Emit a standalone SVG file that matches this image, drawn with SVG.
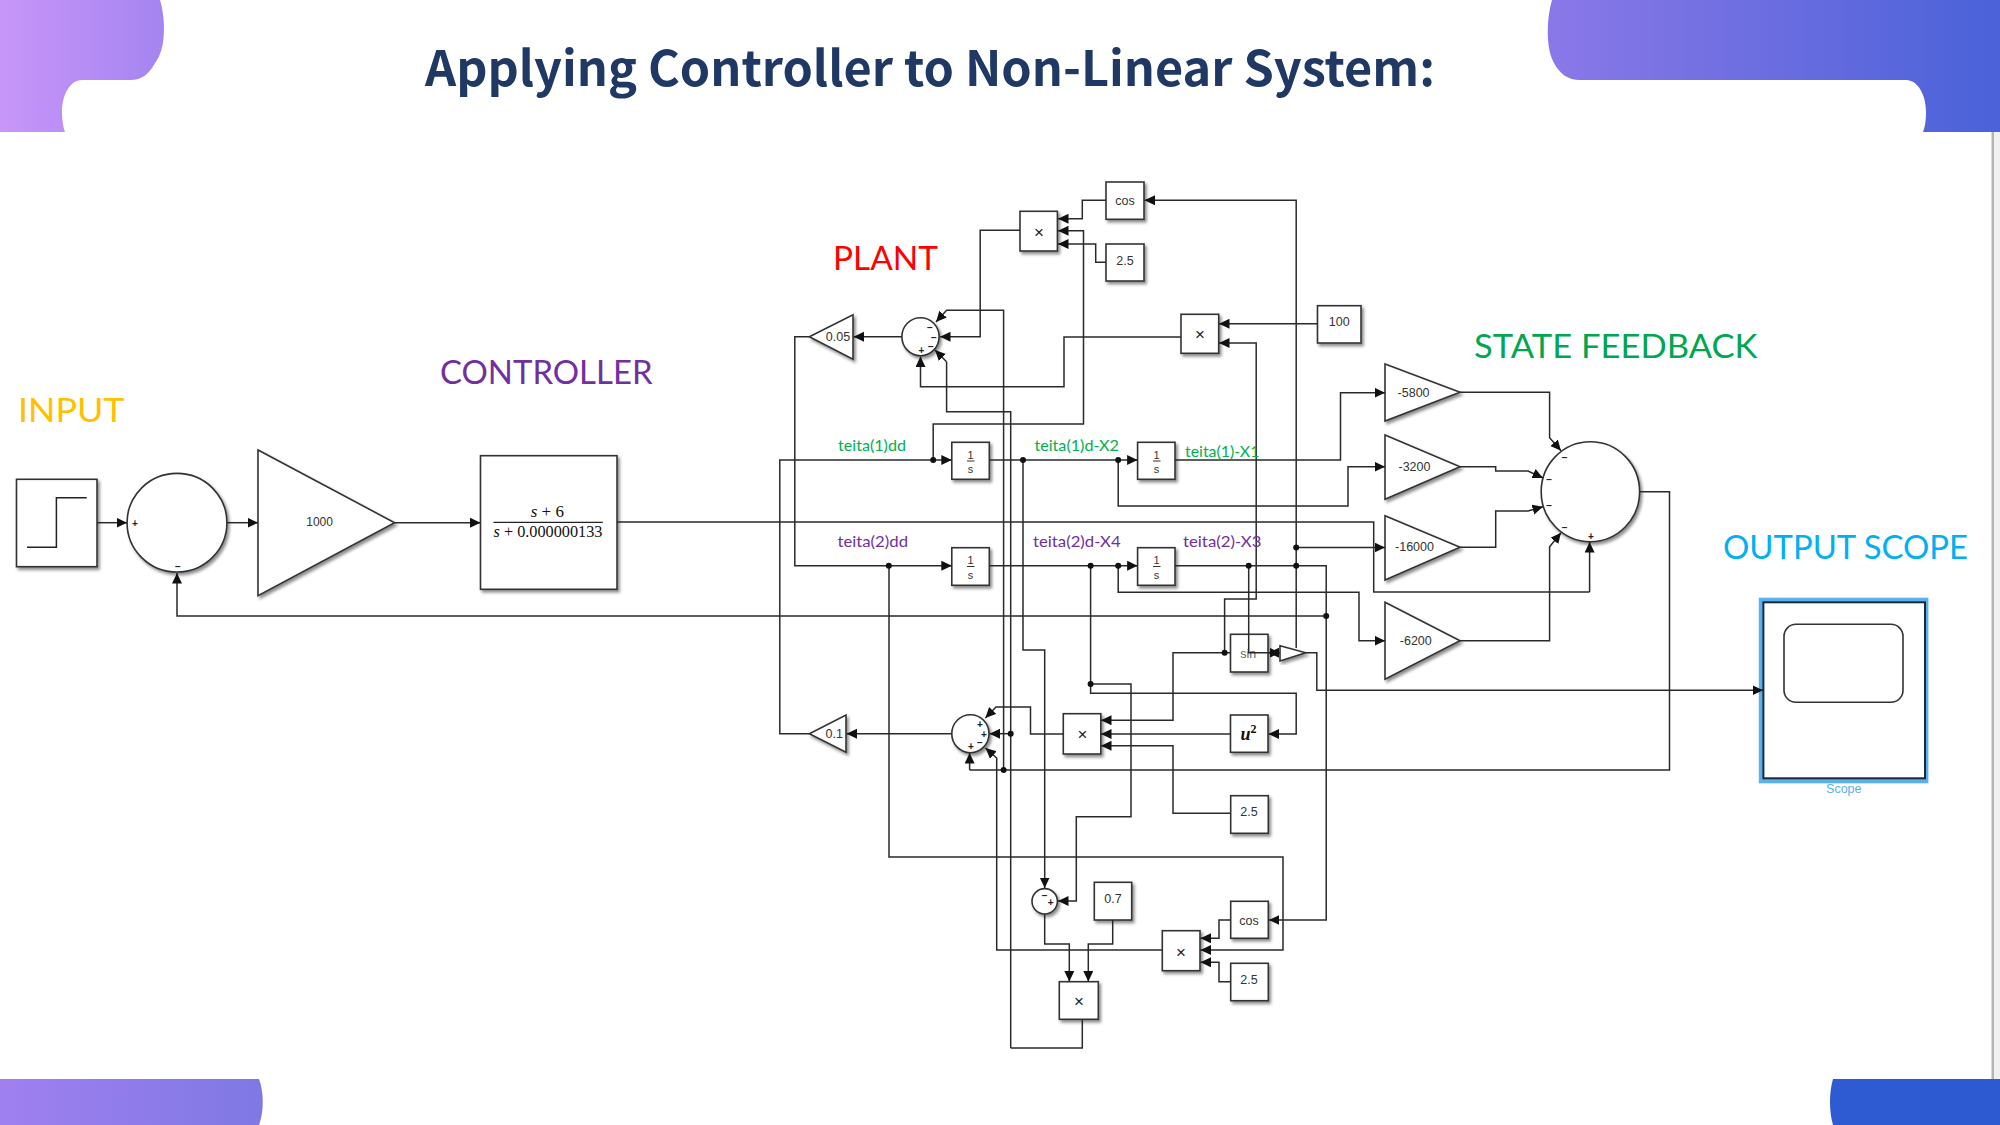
<svg xmlns="http://www.w3.org/2000/svg" width="2000" height="1125" viewBox="0 0 2000 1125">
<style>
.b{fill:#fff;stroke:#333;stroke-width:1.6;filter:url(#sh)}
.c{fill:none;stroke:#2a2a2a;stroke-width:1.5;marker-end:url(#ar)}
.n{fill:none;stroke:#2a2a2a;stroke-width:1.5}
.t{font-family:"Liberation Sans",Arial,sans-serif;font-size:12.5px;fill:#333;text-anchor:middle;dominant-baseline:central}
.x{font-family:"Liberation Sans",Arial,sans-serif;font-size:17px;fill:#222;text-anchor:middle;dominant-baseline:central}
.sg{font-family:"Liberation Sans",Arial,sans-serif;font-size:10px;font-weight:bold;fill:#222;text-anchor:middle;dominant-baseline:central}
.m{font-family:"Liberation Serif","Times New Roman",serif;fill:#111;text-anchor:middle}
.h{font-family:"Lato","Noto Sans",sans-serif;font-size:32px}
.l{font-family:"Lato","Noto Sans",sans-serif;font-size:15px}
.d{fill:#111}
</style>
<defs>
<linearGradient id="gt" gradientUnits="userSpaceOnUse" x1="0" y1="0" x2="2000" y2="0">
<stop offset="0" stop-color="#c896f9"/><stop offset="0.08" stop-color="#a585f0"/><stop offset="0.775" stop-color="#8a78e8"/><stop offset="1" stop-color="#4a62d8"/>
</linearGradient>
<linearGradient id="gb" gradientUnits="userSpaceOnUse" x1="0" y1="0" x2="2000" y2="0">
<stop offset="0" stop-color="#a080f0"/><stop offset="0.131" stop-color="#7f78e4"/><stop offset="0.915" stop-color="#2f5bd2"/><stop offset="1" stop-color="#2d5ad1"/>
</linearGradient>
<marker id="ar" markerUnits="userSpaceOnUse" markerWidth="12" markerHeight="11" refX="10.5" refY="5" orient="auto"><polygon points="0,0 10.5,5 0,10" fill="#111"/></marker>
<filter id="sh" x="-20%" y="-20%" width="145%" height="145%"><feDropShadow dx="2" dy="2.5" stdDeviation="1.8" flood-color="#000" flood-opacity="0.45"/></filter>
</defs>

<g id="background">
<rect width="2000" height="1125" fill="#fff"/>
<rect x="1992" y="132" width="8" height="947" fill="#f0f0f0"/>
<rect x="1991.5" y="132" width="2.5" height="947" fill="#b5b5b5"/>
<path d="M0 0H160C166 20 166 50 155 63C149 74 142 80 130 80H82C70 80 62 95 62 112C62 120 63 127 65 132H0Z" fill="url(#gt)"/>
<path d="M2000 0H1552C1546 20 1546 50 1554 63C1560 74 1568 80 1580 80H1906C1918 80 1926 95 1926 112C1926 120 1925 127 1923 132H2000Z" fill="url(#gt)"/>
<path d="M0 1079H259C264 1092 264 1112 259 1125H0Z" fill="url(#gb)"/>
<path d="M2000 1079H1833C1829 1092 1829 1112 1833 1125H2000Z" fill="url(#gb)"/>
<text x="425" y="86" font-family="'Noto Sans CJK SC','Noto Sans',sans-serif" font-weight="700" font-size="49" fill="#1f3864" textLength="1010" lengthAdjust="spacingAndGlyphs">Applying Controller to Non-Linear System:</text>
</g>

<g id="n-step"><rect class="b" x="16.5" y="479.3" width="80.5" height="87.4"/><polyline points="27,547.3 56.4,547.3 56.4,497.7 86.7,497.7" fill="none" stroke="#222" stroke-width="1.5"/></g>
<g id="n-sum1"><ellipse class="b" cx="177" cy="522.7" rx="49.9" ry="49.3"/><text class="sg" x="135" y="523">+</text><text class="sg" x="178" y="566">−</text></g>
<g id="n-gain1000"><polygon class="b" points="258,450 394.6,522.7 258,595.7"/><text class="t" style="font-size:12px" x="319.6" y="522">1000</text></g>
<g id="n-controller"><rect class="b" x="480.5" y="455.7" width="136.5" height="133.6"/><line x1="493.5" y1="522.3" x2="602.8" y2="522.3" stroke="#222" stroke-width="1.3"/><text class="m" x="547.3" y="516.7" font-size="17"><tspan font-style="italic">s</tspan> + 6</text><text class="m" x="548" y="537.3" font-size="16.5" textLength="109" lengthAdjust="spacingAndGlyphs"><tspan font-style="italic">s</tspan> + 0.000000133</text></g>

<g id="n-cos1"><rect class="b" x="1106" y="182" width="38" height="37.3"/><text class="t" x="1125" y="200.5">cos</text></g>
<g id="n-c25"><rect class="b" x="1106" y="244" width="38" height="37"/><text class="t" x="1125" y="261">2.5</text></g>
<g id="n-prod1"><rect class="b" x="1020" y="211.3" width="37.4" height="39.7"/><text class="x" x="1039" y="232">×</text></g>
<g id="n-sumtop"><ellipse class="b" cx="920.5" cy="336.7" rx="18.6" ry="19"/><text class="sg" x="930" y="327.7">−</text><text class="sg" x="934" y="337.7">−</text><text class="sg" x="930.8" y="346">−</text><text class="sg" x="921.3" y="350">+</text></g>
<g id="n-g005"><polygon class="b" points="809.4,336.7 853,314.7 853,359.3"/><text class="t" x="838" y="337">0.05</text></g>
<g id="n-prod2"><rect class="b" x="1181" y="314.3" width="37.7" height="39"/><text class="x" x="1200" y="334">×</text></g>
<g id="n-c100"><rect class="b" x="1317.5" y="305.7" width="43.5" height="37.3"/><text class="t" x="1339.3" y="322.3">100</text></g>
<g id="n-int1"><rect class="b" x="951.8" y="442.3" width="37.5" height="37"/><text class="t" style="font-size:11px" x="970.5" y="454.5">1</text><line x1="967" y1="461" x2="974.5" y2="461" stroke="#333"/><text class="t" style="font-size:11px" x="970.5" y="469">s</text></g>
<g id="n-int2"><rect class="b" x="1137.6" y="442.3" width="37.4" height="37"/><text class="t" style="font-size:11px" x="1156.5" y="454.5">1</text><line x1="1153" y1="461" x2="1160.5" y2="461" stroke="#333"/><text class="t" style="font-size:11px" x="1156.5" y="469">s</text></g>
<g id="n-int3"><rect class="b" x="951.8" y="547.7" width="37.5" height="37.6"/><text class="t" style="font-size:11px" x="970.5" y="560">1</text><line x1="967" y1="566.5" x2="974.5" y2="566.5" stroke="#333"/><text class="t" style="font-size:11px" x="970.5" y="574.5">s</text></g>
<g id="n-int4"><rect class="b" x="1137.6" y="547.7" width="37.4" height="37.6"/><text class="t" style="font-size:11px" x="1156.5" y="560">1</text><line x1="1153" y1="566.5" x2="1160.5" y2="566.5" stroke="#333"/><text class="t" style="font-size:11px" x="1156.5" y="574.5">s</text></g>
<g id="n-sin"><rect class="b" x="1230.5" y="634.3" width="37.5" height="37.7"/><text class="t" style="fill:#666" x="1248.3" y="654">sin</text></g>
<g id="n-tri"><polygon class="b" points="1280,645.7 1305.7,652.7 1280,661"/></g>
<g id="n-u2"><rect class="b" x="1230.5" y="715" width="37.5" height="37.3"/><text class="m" x="1248.5" y="740" font-size="18" font-weight="bold" font-style="italic">u<tspan font-size="12" font-style="normal" dy="-7">2</tspan></text></g>
<g id="n-prod3"><rect class="b" x="1063.3" y="713.7" width="37.5" height="40.3"/><text class="x" x="1082.5" y="734.5">×</text></g>
<g id="n-sumlow"><ellipse class="b" cx="970.4" cy="733.7" rx="18.6" ry="19"/><text class="sg" x="979.8" y="724">+</text><text class="sg" x="983.8" y="734.3">+</text><text class="sg" x="979.8" y="742.7">−</text><text class="sg" x="970.8" y="746">+</text></g>
<g id="n-g01"><polygon class="b" points="809.4,733.7 846,715 846,752.3"/><text class="t" x="834.3" y="733.7">0.1</text></g>
<g id="n-c25b"><rect class="b" x="1230.7" y="795.7" width="37.6" height="37.6"/><text class="t" x="1249" y="812">2.5</text></g>
<g id="n-c07"><rect class="b" x="1094.3" y="882.3" width="37.4" height="37.7"/><text class="t" x="1113" y="899">0.7</text></g>
<g id="n-sumsmall"><ellipse class="b" cx="1044.7" cy="901.3" rx="12.7" ry="12.7"/><text class="sg" x="1044.7" y="895">−</text><text class="sg" x="1050.7" y="902.3">+</text></g>
<g id="n-cos2"><rect class="b" x="1230.7" y="901.3" width="37.6" height="37"/><text class="t" x="1249" y="920.5">cos</text></g>
<g id="n-prod4"><rect class="b" x="1162.3" y="930.7" width="37.7" height="40"/><text class="x" x="1181" y="952">×</text></g>
<g id="n-c25c"><rect class="b" x="1230.7" y="963.3" width="37.6" height="37.4"/><text class="t" x="1249" y="980">2.5</text></g>
<g id="n-prod5"><rect class="b" x="1059.3" y="981.7" width="39" height="37.6"/><text class="x" x="1079" y="1001.5">×</text></g>
<g id="n-k1"><polygon class="b" points="1385,364 1460,392.3 1385,421"/><text class="t" x="1413.6" y="392.5">-5800</text></g>
<g id="n-k2"><polygon class="b" points="1385,435 1460,466.7 1385,499.3"/><text class="t" x="1414.5" y="466.5">-3200</text></g>
<g id="n-k3"><polygon class="b" points="1385,515.7 1460,547.3 1385,580"/><text class="t" x="1414.5" y="547">-16000</text></g>
<g id="n-k4"><polygon class="b" points="1385,602.3 1460,640.7 1385,679.3"/><text class="t" x="1415.8" y="640.5">-6200</text></g>
<g id="n-sumbig"><ellipse class="b" cx="1590.4" cy="491.7" rx="49.2" ry="50"/><text class="sg" x="1564.7" y="457">−</text><text class="sg" x="1549.2" y="479.3">−</text><text class="sg" x="1549.2" y="505">−</text><text class="sg" x="1564.7" y="527.7">−</text><text class="sg" x="1590.8" y="536.7">+</text></g>
<g id="n-scope"><rect x="1758.8" y="597.7" width="169.6" height="185.6" fill="#5ab1ee"/><rect x="1763.4" y="602.3" width="161.6" height="176" fill="#fff" stroke="#1a2a3a" stroke-width="2"/><rect x="1784" y="624.3" width="119" height="78" rx="12" ry="12" fill="#fff" stroke="#333" stroke-width="1.6"/><text x="1843.8" y="789.3" font-family="'Liberation Sans',Arial,sans-serif" font-size="12.5" fill="#5ab1ee" text-anchor="middle" dominant-baseline="central">Scope</text></g>

<g id="connectors">
<path class="c" d="M97 522.7H127"/>
<path class="c" d="M227 522.7H258"/>
<path class="c" d="M395 522.7H480.5"/>
<path class="n" d="M617 522H1373.7V592H1589.6"/>
<path class="c" d="M1589.6 592V542"/>
<path class="c" d="M1326.2 616H177V573"/>
<path class="c" d="M1106 200.3H1082.3V218.7H1058"/>
<path class="c" d="M933.2 460V424H1083.5V230.7H1058"/>
<path class="c" d="M1106 262.3H1095.7V244H1058"/>
<path class="c" d="M1020 230.3H980.2V336.7H940"/>
<path class="c" d="M1003.6 770V310.3H946.6L936 322"/>
<path class="n" d="M1010.7 1048V411.7H946.6V361.7"/>
<path class="c" d="M946.6 361.7L935 350"/>
<path class="c" d="M1181 337H1064V386.7H920.5V356.5"/>
<path class="c" d="M1317.5 323.7H1219"/>
<path class="c" d="M902 336.7H853.5"/>
<path class="c" d="M809.4 336.7H794.8V565.7H951.8"/>
<path class="c" d="M809.4 733.7H779.8V460H951.8"/>
<path class="c" d="M951.8 733.7H846.5"/>
<path class="c" d="M989.3 460H1137.6"/>
<path class="c" d="M989.3 565.7H1137.6"/>
<path class="c" d="M1175 460H1340.5V392.7H1385"/>
<path class="c" d="M1118.2 460V506H1348V466.7H1385"/>
<path class="c" d="M1118.2 565.7V592.3H1359V640.7H1385"/>
<path class="c" d="M1175 565.7H1326.2V920H1268.8"/>
<path class="c" d="M1296.2 547.5H1385"/>
<path class="c" d="M1296.2 648V200.3H1144.5"/>
<path class="c" d="M1248.7 565.7V652.7H1280"/>
<path class="c" d="M1280 652.7H1268.5"/>
<path class="c" d="M1305.7 652.7H1316.8V690.3H1763"/>
<path class="c" d="M1230.5 652.7H1173V720.3H1101"/>
<path class="c" d="M1224.6 652.7V599H1256.2V343H1219"/>
<path class="c" d="M1090.6 565.7V693.3H1296.2V734H1268.5"/>
<path class="c" d="M1230.5 734H1101"/>
<path class="c" d="M1230.7 813.3H1173V745.7H1101"/>
<path class="c" d="M1063.3 734H1030.5V707H996L985.4 718"/>
<path class="c" d="M1010.7 733.7H989.5"/>
<path class="n" d="M1640 491.7H1669.5V770H969.6"/>
<path class="c" d="M969.6 770V753"/>
<path class="c" d="M1162.3 950H996.7V758L985.5 748"/>
<path class="c" d="M1023 460V650H1044.7V888"/>
<path class="c" d="M1090.6 684H1131V816.7H1076.3V901H1058"/>
<path class="c" d="M1044.7 914V944H1069.3V981.5"/>
<path class="c" d="M1112.7 920V944H1088.3V981.5"/>
<path class="n" d="M1082.3 1019.3V1048H1010.7"/>
<path class="c" d="M1230.7 920H1219V938.3H1200.5"/>
<path class="c" d="M1230.7 981.7H1219V962.3H1200.5"/>
<path class="c" d="M889 565.7V857H1283V950H1200.5"/>
<path class="c" d="M1460 392.3H1549.6V437.7L1561 450.7"/>
<path class="c" d="M1460 466.7H1495.7V471H1528L1543 478"/>
<path class="c" d="M1460 547.3H1495.7V511H1528L1543 506.7"/>
<path class="c" d="M1460 640.7H1549.6V546.7L1561 532.7"/>
<circle class="d" cx="933.2" cy="460" r="3"/>
<circle class="d" cx="1023" cy="460" r="3"/>
<circle class="d" cx="1118.2" cy="460" r="3"/>
<circle class="d" cx="888.8" cy="565.7" r="3"/>
<circle class="d" cx="1090.6" cy="565.7" r="3"/>
<circle class="d" cx="1118.2" cy="565.7" r="3"/>
<circle class="d" cx="1248.7" cy="565.7" r="3"/>
<circle class="d" cx="1296.2" cy="565.7" r="3"/>
<circle class="d" cx="1296.2" cy="547.5" r="3"/>
<circle class="d" cx="1326.2" cy="616" r="3"/>
<circle class="d" cx="1090.6" cy="684" r="3"/>
<circle class="d" cx="1224.6" cy="652.7" r="3"/>
<circle class="d" cx="1010.7" cy="733.7" r="3"/>
<circle class="d" cx="1003.6" cy="770" r="3"/>
</g>

<g id="labels">
<text class="h" x="18" y="422" fill="#ffc000" textLength="106.5" lengthAdjust="spacingAndGlyphs">INPUT</text>
<text class="h" x="440" y="384" fill="#7030a0" textLength="212.5" lengthAdjust="spacingAndGlyphs">CONTROLLER</text>
<text class="h" x="833" y="270" fill="#ff0000" textLength="105" lengthAdjust="spacingAndGlyphs">PLANT</text>
<text class="h" x="1474" y="357.7" fill="#00a651" textLength="283.5" lengthAdjust="spacingAndGlyphs">STATE FEEDBACK</text>
<text class="h" x="1723" y="559.3" fill="#00b0f0" textLength="245" lengthAdjust="spacingAndGlyphs">OUTPUT SCOPE</text>
<text class="l" x="838" y="450.5" fill="#00b050" textLength="68" lengthAdjust="spacingAndGlyphs">teita(1)dd</text>
<text class="l" x="1034.4" y="450.5" fill="#00b050" textLength="84.6" lengthAdjust="spacingAndGlyphs">teita(1)d-X2</text>
<text class="l" x="1185" y="456.5" fill="#00b050" textLength="74.4" lengthAdjust="spacingAndGlyphs">teita(1)-X1</text>
<text class="l" x="837.5" y="547" fill="#7030a0" textLength="70.5" lengthAdjust="spacingAndGlyphs">teita(2)dd</text>
<text class="l" x="1033" y="547" fill="#7030a0" textLength="87.6" lengthAdjust="spacingAndGlyphs">teita(2)d-X4</text>
<text class="l" x="1183" y="547" fill="#7030a0" textLength="78.4" lengthAdjust="spacingAndGlyphs">teita(2)-X3</text>
</g>
</svg>
